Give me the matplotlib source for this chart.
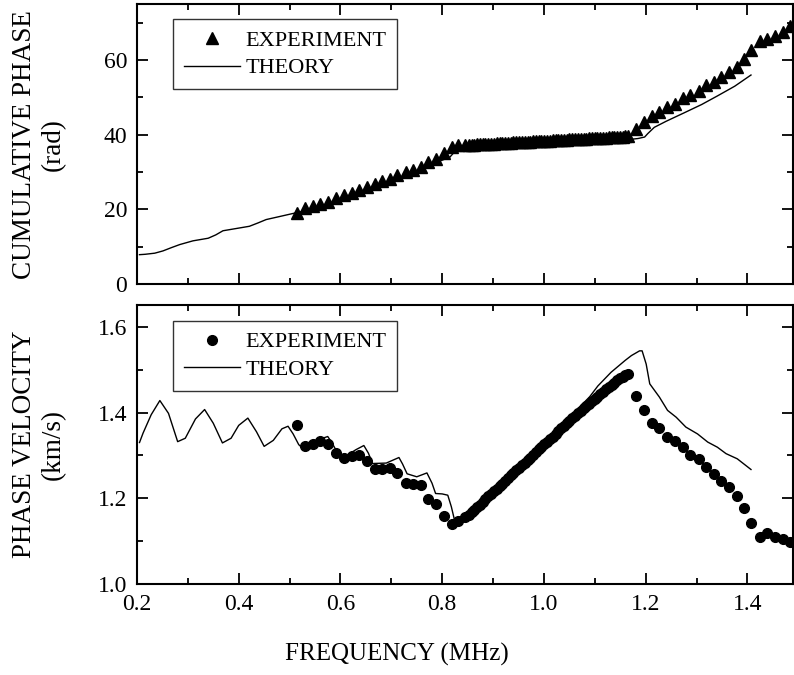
import matplotlib
matplotlib.use('Agg')
import matplotlib.pyplot as plt
from matplotlib.ticker import MultipleLocator

plt.rcParams['font.family'] = ['Liberation Serif', 'DejaVu Serif']

# experiment frequencies (MHz) - low, dense and high parts
exp_freq_low = [0.515, 0.531, 0.546, 0.560, 0.575, 0.592, 0.607, 0.622, 0.637, 0.652, 0.667, 0.682,
                0.697, 0.712, 0.728, 0.743, 0.758, 0.772, 0.788, 0.803, 0.819, 0.832, 0.845]
exp_freq_mid = [0.852, 0.858, 0.863, 0.869, 0.874, 0.880, 0.885, 0.891, 0.896, 0.902, 0.907, 0.913,
                0.918, 0.924, 0.929, 0.935, 0.940, 0.946, 0.951, 0.957, 0.962, 0.968, 0.973, 0.979,
                0.984, 0.990, 0.995, 1.001, 1.006, 1.012, 1.017, 1.023, 1.028, 1.034, 1.039, 1.045,
                1.050, 1.056, 1.061, 1.067, 1.072, 1.078, 1.083, 1.089, 1.094, 1.100, 1.105, 1.111,
                1.116, 1.122, 1.127, 1.133, 1.138, 1.144, 1.149, 1.155, 1.160, 1.166]
exp_freq_high = [1.181, 1.196, 1.212, 1.227, 1.242, 1.258, 1.273, 1.288, 1.304, 1.318, 1.334, 1.348,
                 1.364, 1.379, 1.394, 1.408, 1.424, 1.439, 1.454, 1.469, 1.484]

# cumulative phase (rad)
exp_phase_low = [19.0, 20.3, 20.9, 21.5, 22.1, 23.0, 23.9, 24.5, 25.1, 25.9, 26.8, 27.5,
                 28.2, 29.1, 30.1, 30.7, 31.3, 32.6, 33.6, 35.2, 36.8, 37.2, 37.25]
exp_phase_mid = [37.32, 37.35, 37.38, 37.42, 37.46, 37.50, 37.54, 37.58, 37.62, 37.66, 37.70, 37.74,
                 37.78, 37.82, 37.86, 37.90, 37.94, 37.98, 38.02, 38.06, 38.10, 38.14, 38.18, 38.22,
                 38.26, 38.30, 38.34, 38.38, 38.42, 38.46, 38.50, 38.54, 38.58, 38.62, 38.66, 38.70,
                 38.74, 38.78, 38.82, 38.86, 38.90, 38.94, 38.98, 39.02, 39.06, 39.10, 39.14, 39.18,
                 39.22, 39.26, 39.30, 39.34, 39.38, 39.42, 39.46, 39.50, 39.55, 39.60]
exp_phase_high = [41.5, 43.3, 45.1, 46.0, 47.4, 48.2, 49.8, 50.7, 51.8, 53.2, 54.1, 55.5,
                  56.8, 58.2, 60.2, 62.6, 65.1, 65.6, 66.5, 67.6, 69.0]

# phase velocity (km/s)
exp_vel_low = [1.372, 1.321, 1.326, 1.333, 1.326, 1.305, 1.294, 1.298, 1.302, 1.288, 1.269, 1.269,
               1.270, 1.260, 1.236, 1.233, 1.230, 1.198, 1.186, 1.158, 1.139, 1.147, 1.157]
exp_vel_mid = [1.160, 1.168, 1.172, 1.180, 1.185, 1.192, 1.198, 1.204, 1.210, 1.216, 1.222, 1.229,
               1.234, 1.241, 1.247, 1.253, 1.259, 1.265, 1.271, 1.278, 1.283, 1.290, 1.295, 1.302,
               1.308, 1.314, 1.320, 1.326, 1.332, 1.339, 1.344, 1.351, 1.356, 1.363, 1.368, 1.375,
               1.380, 1.387, 1.392, 1.399, 1.404, 1.410, 1.415, 1.421, 1.426, 1.432, 1.437, 1.443,
               1.448, 1.454, 1.459, 1.465, 1.470, 1.476, 1.480, 1.484, 1.487, 1.489]
exp_vel_high = [1.438, 1.405, 1.375, 1.364, 1.343, 1.333, 1.319, 1.302, 1.291, 1.273, 1.257, 1.240,
                1.226, 1.205, 1.178, 1.143, 1.109, 1.118, 1.109, 1.105, 1.098]

# theory curves
th_phase_freq = [0.205, 0.216, 0.235, 0.251, 0.268, 0.284, 0.310, 0.340, 0.355, 0.369, 0.395, 0.421,
                 0.438, 0.454, 0.480, 0.509, 0.55, 0.60, 0.65, 0.70, 0.75, 0.78, 0.80, 0.815,
                 0.83, 0.845, 0.90, 1.00, 1.10, 1.172, 1.185, 1.198, 1.204, 1.217, 1.24, 1.276,
                 1.31, 1.341, 1.375, 1.407]
th_phase = [7.9, 8.0, 8.3, 8.9, 9.8, 10.6, 11.6, 12.3, 13.2, 14.3, 14.9, 15.5,
            16.4, 17.3, 18.1, 19.0, 20.2, 22.7, 25.2, 27.8, 30.2, 32.0, 33.2, 34.0,
            36.3, 37.0, 37.4, 37.9, 38.4, 38.8, 39.0, 39.4, 40.3, 42.0, 43.6, 45.9,
            48.1, 50.4, 53.0, 56.0]

th_vel_freq = [0.205, 0.212, 0.228, 0.245, 0.262, 0.280, 0.295, 0.315, 0.333, 0.350, 0.368, 0.385,
               0.400, 0.418, 0.435, 0.450, 0.468, 0.485, 0.497, 0.507, 0.518, 0.530, 0.548, 0.565,
               0.575, 0.583, 0.597, 0.613, 0.630, 0.646, 0.655, 0.663, 0.690, 0.715, 0.722, 0.731,
               0.750, 0.770, 0.780, 0.787, 0.800, 0.811, 0.818, 0.824, 0.830, 0.860, 0.95, 1.00,
               1.05, 1.09, 1.106, 1.132, 1.16, 1.172, 1.188, 1.193, 1.201, 1.208, 1.227, 1.243,
               1.260, 1.279, 1.302, 1.322, 1.341, 1.358, 1.380, 1.407]
th_vel = [1.330, 1.352, 1.395, 1.428, 1.398, 1.332, 1.340, 1.385, 1.407, 1.375, 1.329, 1.340,
          1.370, 1.387, 1.355, 1.321, 1.335, 1.362, 1.368, 1.350, 1.325, 1.312, 1.318, 1.340,
          1.344, 1.330, 1.300, 1.300, 1.313, 1.323, 1.305, 1.281, 1.282, 1.295, 1.280, 1.257,
          1.250, 1.259, 1.235, 1.211, 1.210, 1.207, 1.180, 1.150, 1.146, 1.175, 1.275, 1.328,
          1.388, 1.437, 1.462, 1.494, 1.522, 1.533, 1.544, 1.544, 1.513, 1.467, 1.436, 1.405,
          1.389, 1.366, 1.350, 1.331, 1.319, 1.304, 1.292, 1.267]

exp_freq = exp_freq_low + exp_freq_mid + exp_freq_high
exp_phase = exp_phase_low + exp_phase_mid + exp_phase_high
exp_vel = exp_vel_low + exp_vel_mid + exp_vel_high

fig = plt.figure(figsize=(7.94, 6.75), dpi=100)
ax1 = fig.add_axes([0.1725, 0.579, 0.8265, 0.415])
ax2 = fig.add_axes([0.1725, 0.135, 0.8265, 0.4125])

ax1.plot(exp_freq, exp_phase, linestyle='none', marker='^', color='black', markersize=8,
         label='EXPERIMENT')
ax1.plot(th_phase_freq, th_phase, color='black', linewidth=1.0, label='THEORY')
ax1.set_ylim(0, 75)
ax1.yaxis.set_major_locator(MultipleLocator(20))
ax1.yaxis.set_minor_locator(MultipleLocator(10))

ax2.plot(exp_freq, exp_vel, linestyle='none', marker='o', color='black', markersize=7,
         label='EXPERIMENT')
ax2.plot(th_vel_freq, th_vel, color='black', linewidth=1.0, label='THEORY')
ax2.set_ylim(1.0, 1.65)
ax2.yaxis.set_major_locator(MultipleLocator(0.2))
ax2.yaxis.set_minor_locator(MultipleLocator(0.1))
ax2.yaxis.set_major_formatter(matplotlib.ticker.FormatStrFormatter('%.1f'))

for ax in (ax1, ax2):
    ax.set_xlim(0.2, 1.49)
    ax.xaxis.set_major_locator(MultipleLocator(0.2))
    ax.xaxis.set_minor_locator(MultipleLocator(0.1))
    ax.tick_params(which='both', direction='in', top=True, right=True, width=1.3, labelsize=17)
    ax.tick_params(which='major', length=8, pad=7)
    ax.tick_params(which='minor', length=4)
    for s in ax.spines.values():
        s.set_linewidth(1.5)
    leg = ax.legend(loc='upper left', bbox_to_anchor=(0.055, 0.945), fontsize=16, frameon=True,
                    fancybox=False, edgecolor='black', handlelength=2.5, handletextpad=0.25,
                    borderpad=0.5, labelspacing=0.3, borderaxespad=0)
    leg.get_frame().set_linewidth(1.0)

ax1.tick_params(labelbottom=False)
ax2.xaxis.set_major_formatter(matplotlib.ticker.FormatStrFormatter('%.1f'))

ax1.set_ylabel('CUMULATIVE PHASE\n(rad)', fontsize=19.5, linespacing=1.2)
ax2.set_ylabel('PHASE VELOCITY\n(km/s)', fontsize=19.5, linespacing=1.2)
ax1.yaxis.set_label_coords(-0.108, 0.5)
ax2.yaxis.set_label_coords(-0.108, 0.5)
fig.text(0.5, 0.03, 'FREQUENCY (MHz)', fontsize=18, ha='center', va='center')

fig.savefig('out.png', dpi=100)
